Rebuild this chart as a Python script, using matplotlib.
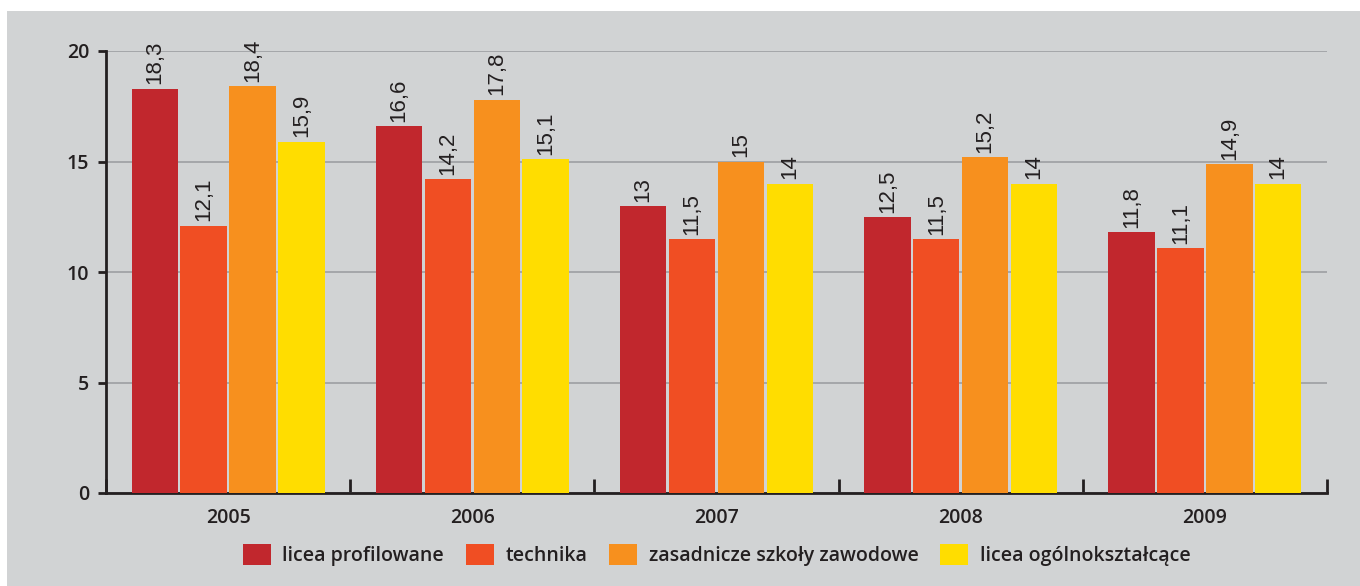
import matplotlib

matplotlib.use("Agg")
import matplotlib.pyplot as plt
import numpy as np
from matplotlib.patches import Rectangle

lata = ["2005", "2006", "2007", "2008", "2009"]
serie = ["licea profilowane", "technika", "zasadnicze szkoły zawodowe", "licea ogólnokształcące"]
licea_profilowane = [18.3, 16.6, 13, 12.5, 11.8]
technika = [12.1, 14.2, 11.5, 11.5, 11.1]
zasadnicze = [18.4, 17.8, 15, 15.2, 14.9]
licea_ogolno = [15.9, 15.1, 14, 14, 14]
kolory = ["#c1272d", "#f04e23", "#f7901e", "#ffdd00"]

TLO = "#d1d3d4"
CIEMNY = "#231f20"

fig = plt.figure(figsize=(13.6, 5.86), dpi=100)
fig.patch.set_facecolor("white")
tlo = Rectangle((7 / 1360, 0), 1 - 7 / 1360, 1 - 11 / 586,
                transform=fig.transFigure, facecolor=TLO,
                edgecolor="none", zorder=-10)
fig.add_artist(tlo)

ax = fig.add_axes([106 / 1360, 93 / 586, (1327 - 106) / 1360, (535 - 93) / 586])
ax.set_facecolor("none")
ax.set_zorder(1)

x = np.arange(len(lata))
szer = 0.19
odst = 0.2
dane = [licea_profilowane, technika, zasadnicze, licea_ogolno]
for i, (wart, kol, nazwa) in enumerate(zip(dane, kolory, serie)):
    pos = x + (i - 1.5) * odst
    bars = ax.bar(pos, wart, width=szer, color=kol, label=nazwa, zorder=3)
    for b, v in zip(bars, wart):
        txt = f"{v:g}".replace(".", ",")
        ax.annotate(txt, (b.get_x() + b.get_width() / 2, v), xytext=(0, 3),
                    textcoords="offset points", rotation=90, ha="center",
                    va="bottom", fontsize=16, color=CIEMNY,
                    family="Liberation Sans", zorder=4)

ax.set_xlim(-0.5, len(lata) - 0.5)
ax.set_ylim(0, 20)
ax.set_yticks([0, 5, 10, 15, 20])
ax.yaxis.grid(True, color="#9d9fa2", linewidth=1.2, zorder=1)
ax.set_axisbelow(True)

for s in ["top", "right"]:
    ax.spines[s].set_visible(False)
for s in ["left", "bottom"]:
    ax.spines[s].set_color(CIEMNY)
    ax.spines[s].set_linewidth(2)

# x ticks at group boundaries, pointing up
ax.set_xticks(np.arange(len(lata) + 1) - 0.5)
ax.set_xticklabels([])
ax.set_xticks(x, minor=True)
ax.set_xticklabels(lata, minor=True, fontsize=14, fontweight="semibold",
                   family="Open Sans", color=CIEMNY)
ax.tick_params(axis="x", which="major", direction="in", length=10, width=2,
               color=CIEMNY)
ax.tick_params(axis="x", which="minor", length=0, pad=11)
ax.tick_params(axis="y", direction="out", length=6, width=2, color=CIEMNY,
               pad=6)
for lab in ax.get_yticklabels():
    lab.set_fontsize(14)
    lab.set_fontweight("semibold")
    lab.set_family("Open Sans")
    lab.set_color(CIEMNY)

leg = ax.legend(loc="center", bbox_to_anchor=(0.5, -0.14), ncol=4,
                frameon=False, handlelength=1.45, handleheight=1.3,
                handletextpad=0.6, columnspacing=1.1,
                prop={"family": "Open Sans", "weight": "semibold", "size": 14})
for t in leg.get_texts():
    t.set_color(CIEMNY)

fig.savefig("out.png", dpi=100, facecolor=fig.get_facecolor())
